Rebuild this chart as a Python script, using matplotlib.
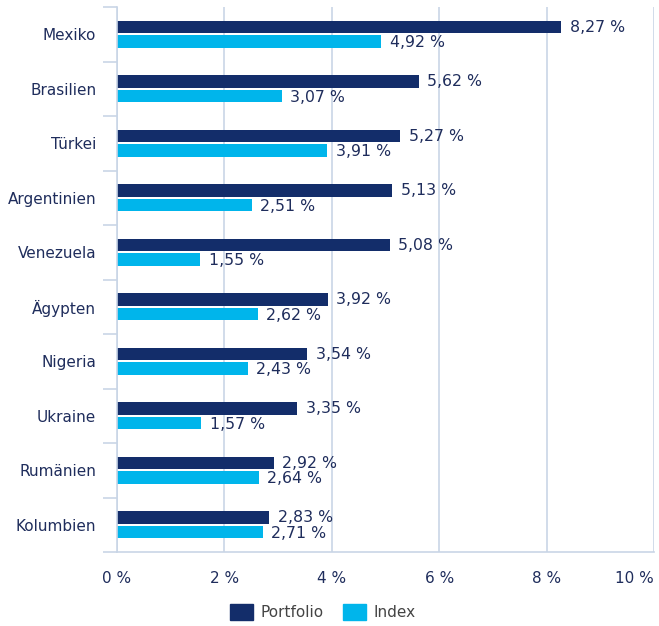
import numpy as np
import matplotlib
matplotlib.use("Agg")
import matplotlib.pyplot as plt
from matplotlib.patches import Patch

countries = ["Mexiko", "Brasilien", "Türkei", "Argentinien", "Venezuela",
             "Ägypten", "Nigeria", "Ukraine", "Rumänien", "Kolumbien"]
portfolio = [8.27, 5.62, 5.27, 5.13, 5.08, 3.92, 3.54, 3.35, 2.92, 2.83]
index = [4.92, 3.07, 3.91, 2.51, 1.55, 2.62, 2.43, 1.57, 2.64, 2.71]
xticks = [0, 2, 4, 6, 8, 10]

NAVY = "#132D6A"
CYAN = "#00B5EB"
TEXT = "#1F2D5C"
GRID = "#C9D5E6"


def fmt(v):
    return f"{v:.2f} %".replace(".", ",")


def main():
    fig = plt.figure(figsize=(6.59, 6.26), dpi=100)
    ax = fig.add_axes([0.1776, 0.1182, 0.8148, 0.8706])

    n = len(countries)
    y = np.arange(n)
    h = 0.235
    gap = 0.03
    ax.barh(y - h / 2 - gap / 2, portfolio, height=h, color=NAVY)
    ax.barh(y + h / 2 + gap / 2, index, height=h, color=CYAN)

    for i in range(n):
        ax.text(portfolio[i] + 0.16, y[i] - h / 2 - gap / 2, fmt(portfolio[i]),
                va="center", ha="left", fontsize=11.3, color=TEXT)
        ax.text(index[i] + 0.16, y[i] + h / 2 + gap / 2 + 0.02, fmt(index[i]),
                va="center", ha="left", fontsize=11.3, color=TEXT)

    ax.set_ylim(n - 0.5, -0.5)
    ax.set_xlim(0, 10)
    ax.set_xticks(xticks)
    ax.set_xticklabels([f"{t} %" for t in xticks], fontsize=11, color=TEXT)
    # last label sits left of its gridline, as in the original
    ax.get_xticklabels()[-1].set_horizontalalignment("right")
    ax.set_yticks(y)
    ax.set_yticklabels(countries, fontsize=11, color=TEXT)
    ax.set_yticks(np.arange(n + 1) - 0.5, minor=True)
    ax.tick_params(axis="y", which="major", length=0, pad=15)
    ax.tick_params(axis="y", which="minor", length=10, color=GRID, width=1.2)
    ax.tick_params(axis="x", length=0, pad=14)

    ax.grid(axis="x", color=GRID, linewidth=1.2)
    ax.set_axisbelow(True)
    for s in ["top", "right"]:
        ax.spines[s].set_visible(False)
    for s in ["left", "bottom"]:
        ax.spines[s].set_color(GRID)
        ax.spines[s].set_linewidth(1.2)

    handles = [Patch(color=NAVY, label="Portfolio"), Patch(color=CYAN, label="Index")]
    leg = fig.legend(handles=handles, loc="lower center", ncol=2, frameon=False,
                     bbox_to_anchor=(0.49, -0.013), fontsize=11, handlelength=1.5,
                     handleheight=1.3, columnspacing=1.3, handletextpad=0.5)
    for t in leg.get_texts():
        t.set_color("#444444")

    fig.savefig("out.png", dpi=100)


if __name__ == "__main__":
    main()
